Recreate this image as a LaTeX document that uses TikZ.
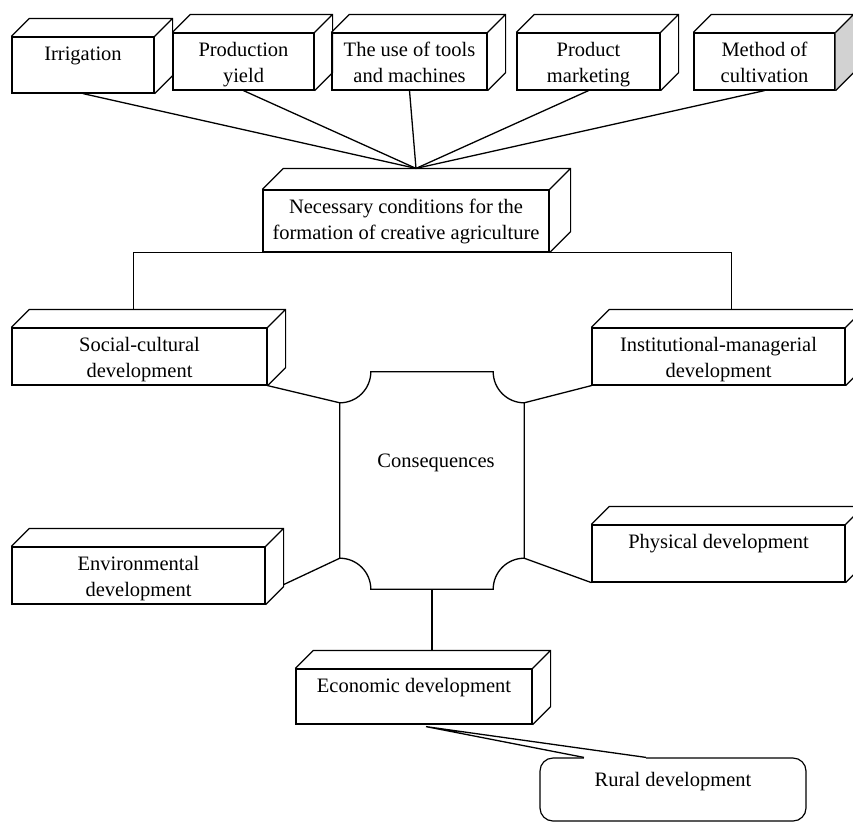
\documentclass[tikz,border=0pt]{standalone}
\usepackage{fontspec}
\setmainfont{Liberation Serif}
\usetikzlibrary{calc}
% 3D faces behind a box node
\newcommand\cubefaces[2][18]{%
  \draw[line width=1.2pt] (#2.north west) -- ++(#1,-#1) -| ($(#2.south east)+(#1,-#1)$) -- (#2.south east)
    (#2.north east) -- ++(#1,-#1);}
\tikzset{
  cube/.style={draw,line width=1.2pt,fill=white,align=center,inner sep=3pt,text height=20pt},
  two lines/.style={text height=46pt},
  dims/.style n args={3}{minimum width=#1pt,minimum height=#2pt,text depth=#3pt},
  link/.style={line width=1.3pt},
}
\begin{document}
\begin{tikzpicture}[x=1pt,y=-1pt,font=\fontsize{20.5}{26}\selectfont]
\useasboundingbox (0,0) rectangle (853,823);
\clip (0,0) rectangle (853,823);
% top row
\node[cube,dims={142}{56}{30}](irr) at (83,65){Irrigation};
\node[cube,two lines,dims={141}{57}{5}](yield) at (243.5,61.5){Production\\yield};
\node[cube,two lines,dims={155}{57}{5}](tools) at (409.5,61.5){The use of tools\\and machines};
\node[cube,two lines,dims={143}{57}{5}](market) at (588.5,61.5){Product\\marketing};
\node[cube,two lines,dims={141}{57}{5}](method) at (764.5,61.5){Method of\\cultivation};
\fill[gray!35] (method.north east) -- ++(18,-18) -- ($(method.south east)+(18,-18)$) -- (method.south east) -- cycle;
% conditions
\node[cube,two lines,dims={286}{62}{10}](cond) at (406,221){Necessary conditions for the\\formation of creative agriculture};
\coordinate (hub) at ($(cond.north)+(10,-21)$);
% development boxes
\node[cube,two lines,dims={255}{57}{5}](social) at (139.5,356.5){Social-cultural\\development};
\node[cube,two lines,dims={253}{57}{5}](inst) at (718.5,356.5){Institutional-managerial\\development};
\node[cube,two lines,dims={253}{57}{5}](env) at (138.5,575.5){Environmental\\development};
\node[cube,dims={253}{57}{31}](phys) at (718.5,553.5){Physical development};
\node[cube,dims={236}{55}{29}](econ) at (414,696.5){Economic development};
\foreach \b in {irr,yield,tools,market,method,social,inst,env,phys,econ} \cubefaces{\b};
\cubefaces[21]{cond}
% consequences
\node[minimum width=184pt,minimum height=217pt,inner sep=0pt](cons) at (432,480.5){};
\node(cons-t) at ($(cons.center)+(4,-18)$){Consequences};
\draw[link] ($(cons.north west)+(31,0)$) -- ($(cons.north east)+(-31,0)$) arc[start angle=180,end angle=90,radius=31]
  -- ($(cons.south east)+(0,-31)$) arc[start angle=270,end angle=180,radius=31]
  -- ($(cons.south west)+(31,0)$) arc[start angle=360,end angle=270,radius=31]
  -- ($(cons.north west)+(0,31)$) arc[start angle=90,end angle=0,radius=31] -- cycle;
% rural
\node[draw,line width=1.2pt,rounded corners=13pt,inner sep=3pt,minimum width=266pt,minimum height=63pt,text height=25pt,text depth=32pt](rural) at (673,789.5){Rural development};
\coordinate (tip) at ($(econ.south)+(12,2)$);
% connectors
\foreach \b in {irr,yield,tools,market,method} \draw[link] (\b.south) -- (hub);
\draw[link] ($(social.north)+(-6,-18)$) |- (cond.south) -| ($(inst.north)+(13,-18)$);
\draw[link] (social.south east) -- ($(cons.north west)+(0,31)$);
\draw[link] (inst.south west) -- ($(cons.north east)+(0,31)$);
\draw[link] ($(env.south east)+(18,-20)$) -- ($(cons.south west)+(0,-31)$);
\draw[link] (phys.south west) -- ($(cons.south east)+(0,-31)$);
\draw[link] (cons.south) -- ($(econ.north)+(18,-18)$);
\fill[white] ($(rural.north)+(-89,-1.5)$) rectangle ($(rural.north)+(-27,1.5)$);
\draw[link] ($(rural.north)+(-89,0)$) -- (tip) -- ($(rural.north)+(-27,0)$);
\end{tikzpicture}
\end{document}
